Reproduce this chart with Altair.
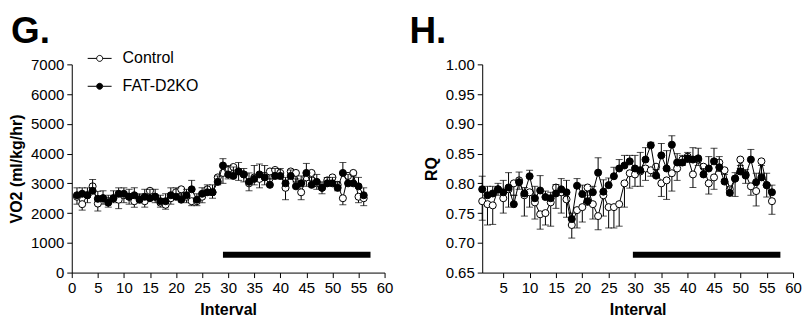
import altair as alt
import pandas as pd

intervals = list(range(1, 57))

vo2_control = [2550, 2300, 2600, 2900, 2320, 2500, 2400, 2500, 2450, 2600,
               2550, 2400, 2500, 2400, 2750, 2550, 2350, 2280, 2500, 2700,
               2800, 2550, 2400, 2400, 2550, 2800, 2700, 3200, 3350, 3450,
               3550, 3400, 3300, 3000, 3200, 3150, 3250, 3400, 3450, 3350,
               2850, 3400, 3350, 2700, 3200, 3350, 3000, 2850, 3100, 3200,
               2950, 2500, 3250, 3350, 2550, 2500]
vo2_control_err = [250, 200, 250, 150, 250, 200, 200, 150, 300, 250,
                   250, 200, 150, 200, 200, 200, 150, 150, 200, 200,
                   200, 200, 150, 150, 200, 200, 200, 250, 350, 300,
                   300, 300, 250, 250, 250, 300, 300, 250, 200, 200,
                   400, 250, 300, 250, 300, 250, 200, 200, 200, 200,
                   200, 220, 250, 300, 200, 250]
vo2_fat = [2600, 2650, 2600, 2750, 2480, 2500, 2350, 2500, 2650, 2650,
           2550, 2600, 2450, 2550, 2500, 2550, 2400, 2400, 2600, 2550,
           2450, 2600, 2800, 2450, 2650, 2700, 2700, 3050, 3600, 3300,
           3250, 3400, 3300, 3050, 3150, 3300, 3200, 2950, 3250, 3250,
           3000, 3250, 2900, 3000, 3350, 2950, 3050, 2850, 3000, 3000,
           2850, 3350, 3000, 3000, 2900, 2600]
vo2_fat_err = [250, 200, 250, 380, 250, 250, 250, 250, 200, 200,
               250, 250, 200, 250, 300, 250, 200, 250, 250, 300,
               200, 200, 300, 200, 200, 250, 250, 200, 230, 300,
               300, 300, 200, 300, 450, 350, 400, 200, 250, 250,
               200, 200, 250, 250, 320, 250, 250, 200, 200, 200,
               200, 350, 300, 250, 300, 250]

rq_control = [0.770, 0.765, 0.763, 0.790, 0.775, 0.790, 0.800, 0.805, 0.780, 0.785,
              0.768, 0.748, 0.750, 0.768, 0.793, 0.785, 0.773, 0.730, 0.755, 0.760,
              0.793, 0.765, 0.745, 0.780, 0.760, 0.760, 0.765, 0.800, 0.817, 0.815,
              0.820, 0.825, 0.822, 0.828, 0.800, 0.805, 0.817, 0.825, 0.840, 0.845,
              0.815, 0.840, 0.828, 0.800, 0.810, 0.835, 0.822, 0.790, 0.808, 0.840,
              0.815, 0.795, 0.787, 0.837, 0.797, 0.770]
rq_control_err = [0.032, 0.035, 0.032, 0.010, 0.025, 0.030, 0.020, 0.015, 0.035, 0.025,
                  0.028, 0.025, 0.020, 0.040, 0.035, 0.035, 0.030, 0.022, 0.030, 0.025,
                  0.030, 0.025, 0.023, 0.035, 0.035, 0.035, 0.037, 0.040, 0.025, 0.020,
                  0.025, 0.020, 0.010, 0.015, 0.022, 0.032, 0.030, 0.020, 0.010, 0.010,
                  0.022, 0.010, 0.010, 0.018, 0.020, 0.015, 0.015, 0.010, 0.030, 0.015,
                  0.015, 0.015, 0.025, 0.020, 0.020, 0.022]
rq_fat = [0.790, 0.780, 0.783, 0.790, 0.785, 0.793, 0.765, 0.802, 0.783, 0.812,
          0.775, 0.788, 0.777, 0.775, 0.783, 0.790, 0.785, 0.740, 0.796, 0.782,
          0.770, 0.785, 0.818, 0.786, 0.797, 0.812, 0.825, 0.830, 0.837, 0.825,
          0.822, 0.840, 0.864, 0.813, 0.847, 0.825, 0.865, 0.835, 0.835, 0.842,
          0.840, 0.842, 0.815, 0.825, 0.837, 0.827, 0.803, 0.784, 0.808, 0.820,
          0.813, 0.840, 0.802, 0.810, 0.797, 0.785]
rq_fat_err = [0.022, 0.015, 0.012, 0.010, 0.020, 0.025, 0.015, 0.017, 0.010, 0.010,
              0.020, 0.025, 0.010, 0.010, 0.015, 0.018, 0.020, 0.010, 0.012, 0.015,
              0.010, 0.010, 0.025, 0.020, 0.012, 0.015, 0.015, 0.017, 0.010, 0.022,
              0.030, 0.020, 0.005, 0.010, 0.020, 0.030, 0.015, 0.015, 0.012, 0.010,
              0.020, 0.017, 0.010, 0.020, 0.022, 0.018, 0.012, 0.010, 0.010, 0.010,
              0.010, 0.017, 0.015, 0.020, 0.020, 0.012]

series_names = ["Control", "FAT-D2KO"]

vo2_bar = {"x": [29], "x2": [57.3], "y": [600]}
rq_bar = {"x": [29.6], "x2": [57.6], "y": [0.68]}

vo2_yticks = [0, 1000, 2000, 3000, 4000, 5000, 6000, 7000]
vo2_xticks = list(range(0, 61, 5))
rq_yticks = [0.65, 0.70, 0.75, 0.80, 0.85, 0.90, 0.95, 1.00]
rq_xticks = list(range(5, 61, 5))

FONT = "Liberation Sans"
SYMBOL = ("M-2,0H-0.5M0.5,0H2M-0.5,0A0.5,0.5 0 1,1 0.5,0"
          "A0.5,0.5 0 1,1 -0.5,0Z")


def panel(title, ytitle, ctrl, ctrl_err, fat, fat_err, ydom, yticks, yfmt,
          xdom, xticks, bar, w, h, title_dx):
    dc = pd.DataFrame({"x": intervals, "y": ctrl,
                       "e": [a - b for a, b in zip(ctrl, ctrl_err)],
                       "series": series_names[0]})
    df = pd.DataFrame({"x": intervals, "y": fat,
                       "e": [a + b for a, b in zip(fat, fat_err)],
                       "series": series_names[1]})
    xs = alt.Scale(domain=xdom, nice=False, zero=False)
    ys = alt.Scale(domain=ydom, nice=False, zero=False)
    xax = alt.Axis(values=xticks, title="Interval", format="d",
                   labelOverlap=False, labelFlush=False, labelPadding=3,
                   titlePadding=6)
    yax = alt.Axis(values=yticks, title=ytitle, format=yfmt,
                   labelOverlap=False, labelFlush=False, labelPadding=3,
                   titlePadding=6)

    def X(field):
        return alt.X(field, type="quantitative", scale=xs, axis=xax)

    def Y(field):
        return alt.Y(field, type="quantitative", scale=ys, axis=yax)

    fill_scale = alt.Scale(domain=series_names, range=["white", "black"])
    legend = alt.Legend(title=None, orient="none", legendX=20, legendY=-14,
                        symbolType=SYMBOL, symbolSize=144,
                        symbolStrokeColor="black", symbolStrokeWidth=1,
                        labelFont=FONT, labelFontSize=16, labelColor="black",
                        labelOffset=15, rowPadding=12, padding=0)

    layers = []
    for d in (dc, df):
        base = alt.Chart(d)
        rule = base.mark_rule(color="black", strokeWidth=1).encode(
            x=X("x"), y=Y("y"), y2="e:Q")
        cap = base.mark_tick(color="black", orient="horizontal", size=7,
                             thickness=1).encode(x=X("x"), y=Y("e"))
        line = base.mark_line(color="black", strokeWidth=1).encode(
            x=X("x"), y=Y("y"))
        pts = base.mark_point(filled=True, size=50, stroke="black",
                              strokeWidth=1, opacity=1).encode(
            x=X("x"), y=Y("y"),
            fill=alt.Fill("series:N", scale=fill_scale, legend=legend))
        layers += [rule, cap, line, pts]

    bar_layer = alt.Chart(pd.DataFrame(bar)).mark_rule(
        color="black", strokeWidth=6, strokeCap="butt").encode(
        x=X("x"), x2="x2:Q", y=Y("y"))
    layers.append(bar_layer)

    return alt.layer(*layers).properties(
        width=w, height=h,
        title=alt.TitleParams(title, anchor="start", frame="group",
                              font=FONT, fontSize=37,
                              fontWeight="bold", color="black",
                              dx=title_dx, offset=6))


g = panel("G.", "VO2 (ml/kg/hr)", vo2_control, vo2_control_err, vo2_fat,
          vo2_fat_err, [0, 7000], vo2_yticks, "d", [0, 60], vo2_xticks,
          vo2_bar, 314, 209, -61)
hh = panel("H.", "RQ", rq_control, rq_control_err, rq_fat, rq_fat_err,
           [0.65, 1.0], rq_yticks, ".2f", [1, 60], rq_xticks, rq_bar,
           312, 209, -73)

chart = alt.hconcat(g, hh, spacing=16).properties(
    padding={"left": 0, "right": 0, "top": 5, "bottom": 0}
).configure_view(
    strokeWidth=0
).configure_axis(
    grid=False, domainColor="black", domainWidth=1, tickColor="black",
    tickSize=5, labelFont=FONT, labelFontSize=15, labelColor="black",
    titleFont=FONT, titleFontSize=16, titleFontWeight="bold",
    titleColor="black", labelOverlap=False, labelFlush=False
)

chart.save("out.html", embed_options={"renderer": "svg", "actions": False})
